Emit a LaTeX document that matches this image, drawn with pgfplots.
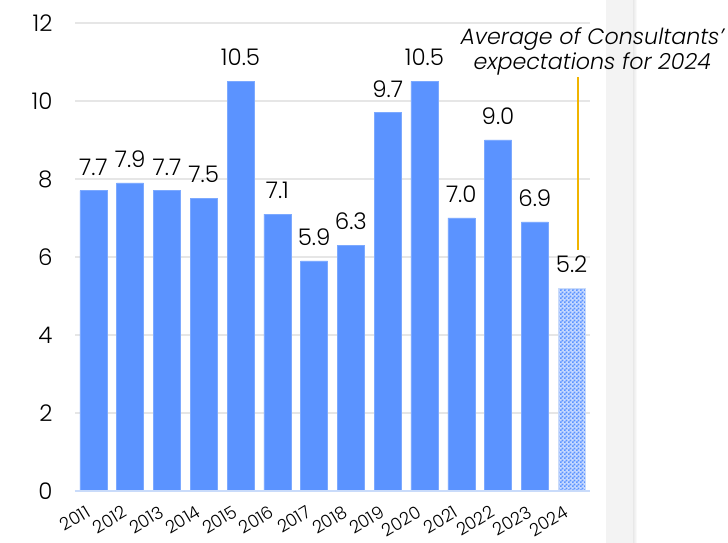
\documentclass[border=0pt]{standalone}
\usepackage{pgfplots}
\pgfplotsset{compat=1.18}
\usepackage{fontspec}
\setmainfont{Poppins Light}[ItalicFont={Poppins Light Italic}]
\usetikzlibrary{patterns}

\definecolor{barblue}{HTML}{5B93FF}
\definecolor{baseblue}{HTML}{C9DBFA}
\definecolor{gridgray}{HTML}{E6E6E6}
\definecolor{stripgray}{HTML}{F3F3F3}
\definecolor{stripedge}{HTML}{E8E8E8}
\definecolor{markgold}{RGB}{240,180,0}

% checkerboard for the forecast bar
\pgfdeclarepatternformonly{finecheck}{\pgfpointorigin}{\pgfqpoint{4bp}{4bp}}{\pgfqpoint{4bp}{4bp}}{%
  \pgfpathrectangle{\pgfpointorigin}{\pgfqpoint{2.05bp}{2.05bp}}%
  \pgfpathrectangle{\pgfqpoint{2bp}{2bp}}{\pgfqpoint{2.05bp}{2.05bp}}%
  \pgfusepath{fill}}

\pgfplotstableread{
x  val
0  7.7
1  7.9
2  7.7
3  7.5
4  10.5
5  7.1
6  5.9
7  6.3
8  9.7
9  10.5
10 7.0
11 9.0
12 6.9
}\actuals

\pgfplotstableread{
x  val
13 5.2
}\expected

\begin{document}
\begin{tikzpicture}[x=1bp,y=1bp]
  % page frame and the grey side panel
  \useasboundingbox (-75,-52) rectangle (653,491);
  \fill[stripgray] (531,-52) rectangle (558,491);
  \shade[left color=stripedge, right color=white] (558,-52) rectangle (562,491);

  \begin{axis}[
    at={(0,0)}, anchor=south west,
    scale only axis,
    width=515bp, height=468bp,
    xmin=-0.5, xmax=13.5,
    ymin=0, ymax=12,
    ytick={0,2,...,12},
    xtick={0,...,13},
    xticklabels={2011,2012,2013,2014,2015,2016,2017,2018,2019,2020,2021,2022,2023,2024},
    axis line style={draw=none},
    major tick length=0pt,
    ymajorgrids,
    grid style={gridgray, line width=1.5bp},
    /pgf/number format/assume math mode=true,
    yticklabel style={font=\fontsize{23}{24}\selectfont, xshift=-19bp},
    xticklabel style={font=\fontsize{17.5}{18}\selectfont, rotate=31, anchor=north east, xshift=-11bp, yshift=-4bp},
    clip=false,
    ybar, bar width=27bp,
    nodes near coords,
    nodes near coords style={font=\fontsize{23}{24}\selectfont, yshift=12bp,
      /pgf/number format/.cd, fixed, fixed zerofill, precision=1, assume math mode=true},
  ]
    \addplot[fill=barblue, draw=barblue!80!white, bar shift=0pt] table[x=x, y=val] {\actuals};
    \addplot[fill=barblue!35, draw=baseblue, bar shift=0pt,
             postaction={pattern=finecheck, pattern color=barblue}] table[x=x, y=val] {\expected};

    % baseline
    \draw[baseblue, line width=2bp] (rel axis cs:0,0) -- (rel axis cs:1,0);

    \node[align=center, font=\itshape\fontsize{22.3}{25}\selectfont, inner sep=0pt]
      at (axis cs:13.56,11.27) {Average of Consultants'\\expectations for 2024};
  \end{axis}

  % pointer from the note down to the 2024 bar
  \draw[draw=markgold, line width=1.6bp] (503,241) -- (503,414);
\end{tikzpicture}
\end{document}
